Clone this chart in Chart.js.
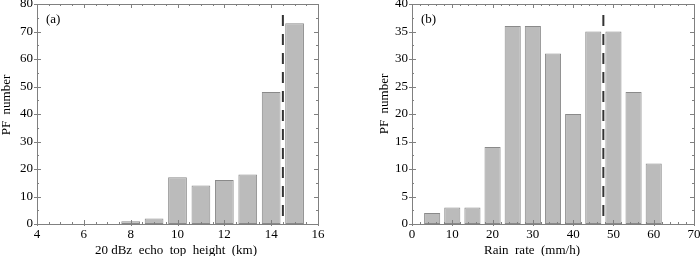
<!DOCTYPE html>
<html>
<head>
<meta charset="utf-8">
<script src="https://cdn.jsdelivr.net/npm/chart.js@4.4.1/dist/chart.umd.min.js"></script>
<style>
	body { margin: 0; background: #fff; }
	.panel { position: absolute; top: 0; width: 350px; height: 256px; }
</style>
</head>
<body>
<div class="panel" style="left:0"><canvas id="height-chart" width="350" height="256"></canvas></div>
<div class="panel" style="left:350px"><canvas id="rate-chart" width="350" height="256"></canvas></div>
<script>
Chart.defaults.font.family = 'Liberation Serif';
Chart.defaults.font.size = 13;
Chart.defaults.color = '#000';

// (a) 20 dBz echo top height
var heightBins = [8, 9, 10, 11, 12, 13, 14, 15];
var heightCounts = [1, 2, 17, 14, 16, 18, 48, 73];
var heightMean = 14.5;
var heightMeanTop = 76;
var heightTicksX = [4, 6, 8, 10, 12, 14, 16];
var heightTicksY = [0, 10, 20, 30, 40, 50, 60, 70, 80];

// (b) rain rate
var rateBins = [5, 10, 15, 20, 25, 30, 35, 40, 45, 50, 55, 60];
var rateCounts = [2, 3, 3, 14, 36, 36, 31, 20, 35, 35, 24, 11];
var rateMean = 47.5;
var rateMeanTop = 38;
var rateTicksX = [0, 10, 20, 30, 40, 50, 60, 70];
var rateTicksY = [0, 5, 10, 15, 20, 25, 30, 35, 40];

// frame, inward ticks, panel letter and axis titles
var frameTicks = {
	id: 'frameTicks',
	afterDatasetsDraw: function(chart, args, opts) {
		var ctx = chart.ctx;
		var a = chart.chartArea;
		var sx = chart.scales.x;
		var sy = chart.scales.y;
		ctx.save();
		ctx.strokeStyle = '#808080';
		ctx.lineWidth = 1;
		ctx.strokeRect(Math.round(a.left) + 0.5, Math.round(a.top) + 0.5,
			Math.round(a.right) - Math.round(a.left), Math.round(a.bottom) - Math.round(a.top));
		ctx.beginPath();
		var v, p, len, major;
		for (v = sx.min; v <= sx.max + 1e-9; v += opts.xMinor) {
			major = opts.xMajor.indexOf(Math.round(v * 100) / 100) >= 0;
			len = major ? 4 : 2;
			p = Math.round(sx.getPixelForValue(v)) + 0.5;
			ctx.moveTo(p, a.bottom + (major ? 2 : 0));
			ctx.lineTo(p, a.bottom - len);
			ctx.moveTo(p, a.top);
			ctx.lineTo(p, a.top + len);
		}
		for (v = sy.min; v <= sy.max + 1e-9; v += opts.yMinor) {
			major = opts.yMajor.indexOf(Math.round(v * 100) / 100) >= 0;
			len = major ? 4 : 2;
			p = Math.round(sy.getPixelForValue(v)) + 0.5;
			ctx.moveTo(a.left - (major ? 3 : 0), p);
			ctx.lineTo(a.left + len, p);
			ctx.moveTo(a.right, p);
			ctx.lineTo(a.right - len, p);
		}
		ctx.stroke();

		ctx.fillStyle = '#000';
		ctx.font = '13px "Liberation Serif"';
		ctx.textBaseline = 'alphabetic';
		ctx.textAlign = 'left';
		ctx.fillText(opts.letter, a.left + 9, a.top + 19);

		ctx.textAlign = 'center';
		ctx.fillText(opts.xTitle, opts.xTitlePos[0], opts.xTitlePos[1]);
		ctx.translate(opts.yTitlePos[0], opts.yTitlePos[1]);
		ctx.rotate(-Math.PI / 2);
		ctx.fillText(opts.yTitle, 0, 0);
		ctx.restore();
	}
};

function makeChart(id, bins, counts, mean, meanTop, ticksX, ticksY, yWidth, padRight, frame) {
	var ctx = document.getElementById(id).getContext('2d');
	return new Chart(ctx, {
		type: 'bar',
		data: {
			datasets: [
				{
					type: 'bar',
					data: bins.map(function(b, i) { return { x: b, y: counts[i] }; }),
					backgroundColor: '#bbbbbb',
					borderColor: '#8a8a8a',
					borderWidth: 1,
					borderSkipped: false,
					categoryPercentage: 0.8,
					barPercentage: 1,
					order: 2
				},
				{
					type: 'line',
					data: [{ x: mean, y: meanTop }, { x: mean, y: 0 }],
					borderColor: '#333333',
					borderWidth: 2,
					borderDash: [11, 8],
					pointRadius: 0,
					fill: false,
					order: 1
				}
			]
		},
		options: {
			responsive: false,
			animation: false,
			layout: { padding: { top: 4, right: padRight, left: 0, bottom: 0 } },
			plugins: {
				legend: { display: false },
				tooltip: { enabled: false },
				frameTicks: frame
			},
			scales: {
				x: {
					type: 'linear',
					offset: false,
					min: ticksX[0],
					max: ticksX[ticksX.length - 1],
					grid: { display: false, drawTicks: false, offset: false },
					border: { display: false },
					ticks: { padding: 3, maxRotation: 0, autoSkip: false },
					afterBuildTicks: function(s) { s.ticks = ticksX.map(function(v) { return { value: v }; }); },
					afterFit: function(s) { s.height = 32; s.paddingLeft = 0; s.paddingRight = 0; }
				},
				y: {
					min: ticksY[0],
					max: ticksY[ticksY.length - 1],
					grid: { display: false, drawTicks: false },
					border: { display: false },
					ticks: { padding: 4, autoSkip: false },
					afterBuildTicks: function(s) { s.ticks = ticksY.map(function(v) { return { value: v }; }); },
					afterFit: function(s) { s.width = yWidth; s.paddingTop = 0; s.paddingBottom = 0; }
				}
			}
		},
		plugins: [frameTicks]
	});
}

makeChart('height-chart', heightBins, heightCounts, heightMean, heightMeanTop, heightTicksX, heightTicksY, 37, 32, {
	xMinor: 0.5, yMinor: 5, xMajor: heightTicksX, yMajor: heightTicksY,
	letter: '(a)',
	xTitle: '20 dBz  echo  top  height  (km)', xTitlePos: [176, 254],
	yTitle: 'PF  number', yTitlePos: [10, 105]
});

makeChart('rate-chart', rateBins, rateCounts, rateMean, rateMeanTop, rateTicksX, rateTicksY, 62, 6, {
	xMinor: 2, yMinor: 2.5, xMajor: rateTicksX, yMajor: rateTicksY,
	letter: '(b)',
	xTitle: 'Rain  rate  (mm/h)', xTitlePos: [182, 254],
	yTitle: 'PF  number', yTitlePos: [38, 104]
});
</script>
</body>
</html>
